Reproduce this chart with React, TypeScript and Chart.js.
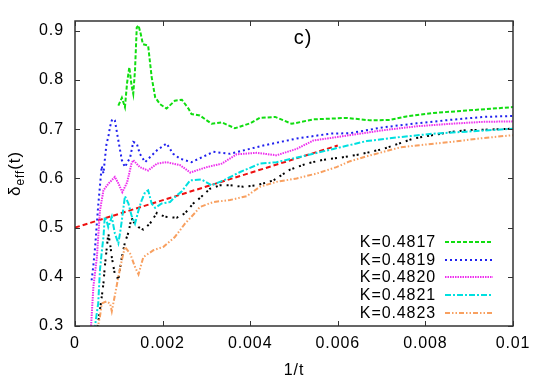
import { useEffect, useRef } from "react";
import { Chart, registerables } from "chart.js";

Chart.register(...registerables);

const xTicks = [0, 0.002, 0.004, 0.006, 0.008, 0.01];
const xTickLabels = ["0", "0.002", "0.004", "0.006", "0.008", "0.01"];
const yTicks = [0.3, 0.4, 0.5, 0.6, 0.7, 0.8, 0.9];
const yTickLabels = ["0.3", "0.4", "0.5", "0.6", "0.7", "0.8", "0.9"];

const legendNames = ["K=0.4817", "K=0.4819", "K=0.4820", "K=0.4821", "K=0.4823"];

const k4817X = [0.00099, 0.00107, 0.00114, 0.00119, 0.00124, 0.00129, 0.00133, 0.00137, 0.00141, 0.00145, 0.0015, 0.00155, 0.00167, 0.00175, 0.00183, 0.00194, 0.00209, 0.00228, 0.00244, 0.00259, 0.00266, 0.00285, 0.00312, 0.00335, 0.00365, 0.004, 0.00422, 0.00457, 0.00495, 0.00544, 0.0062, 0.00674, 0.00719, 0.00757, 0.00818, 0.00894, 0.01];
const k4817Y = [0.748, 0.764, 0.745, 0.795, 0.826, 0.79, 0.772, 0.82, 0.907, 0.911, 0.894, 0.873, 0.87, 0.806, 0.765, 0.751, 0.742, 0.758, 0.76, 0.742, 0.731, 0.728, 0.711, 0.714, 0.702, 0.712, 0.723, 0.725, 0.711, 0.72, 0.723, 0.718, 0.719, 0.726, 0.733, 0.738, 0.745];

const k4819X = [0.00038, 0.00042, 0.00046, 0.0005, 0.00053, 0.00057, 0.00061, 0.00065, 0.00068, 0.00072, 0.00076, 0.0008, 0.00084, 0.00087, 0.00091, 0.00099, 0.00107, 0.00114, 0.00126, 0.00133, 0.00141, 0.00148, 0.0016, 0.00171, 0.00187, 0.00209, 0.00224, 0.0024, 0.00266, 0.00316, 0.00354, 0.0043, 0.00506, 0.00582, 0.00628, 0.00704, 0.0078, 0.00856, 0.00932, 0.01];
const k4819Y = [0.393, 0.424, 0.461, 0.51, 0.545, 0.585, 0.625, 0.61, 0.637, 0.671, 0.684, 0.705, 0.718, 0.721, 0.718, 0.677, 0.637, 0.623, 0.643, 0.674, 0.671, 0.65, 0.633, 0.643, 0.657, 0.671, 0.65, 0.64, 0.633, 0.654, 0.65, 0.667, 0.681, 0.691, 0.692, 0.704, 0.712, 0.719, 0.725, 0.727];

const k4820X = [0.00036, 0.00042, 0.0005, 0.00053, 0.00057, 0.00065, 0.00076, 0.00091, 0.00099, 0.00108, 0.00119, 0.00129, 0.00133, 0.00148, 0.00167, 0.00187, 0.00209, 0.0024, 0.00263, 0.00301, 0.00335, 0.00369, 0.00415, 0.0046, 0.00506, 0.00544, 0.0062, 0.00704, 0.0078, 0.00856, 0.00932, 0.01];
const k4820Y = [0.29, 0.38, 0.44, 0.481, 0.535, 0.576, 0.589, 0.603, 0.59, 0.572, 0.592, 0.63, 0.637, 0.623, 0.616, 0.63, 0.633, 0.627, 0.612, 0.623, 0.63, 0.649, 0.652, 0.647, 0.66, 0.677, 0.687, 0.698, 0.706, 0.711, 0.715, 0.716];

const k4821X = [0.00044, 0.00053, 0.00057, 0.00061, 0.00065, 0.00068, 0.00072, 0.00076, 0.00084, 0.00091, 0.00099, 0.00103, 0.00107, 0.00114, 0.00122, 0.00129, 0.00137, 0.00145, 0.00152, 0.0016, 0.00167, 0.00175, 0.00183, 0.00198, 0.00217, 0.00228, 0.00244, 0.00263, 0.00289, 0.00312, 0.00339, 0.00377, 0.00422, 0.0046, 0.00529, 0.0059, 0.00666, 0.00742, 0.00818, 0.00894, 0.01];
const k4821Y = [0.29, 0.346, 0.414, 0.45, 0.481, 0.522, 0.515, 0.501, 0.522, 0.488, 0.468, 0.49, 0.515, 0.564, 0.549, 0.525, 0.508, 0.535, 0.555, 0.572, 0.576, 0.549, 0.54, 0.549, 0.552, 0.562, 0.574, 0.596, 0.598, 0.586, 0.596, 0.613, 0.63, 0.633, 0.647, 0.66, 0.676, 0.684, 0.691, 0.695, 0.701];

const k4823X = [0.0005, 0.00057, 0.00061, 0.00072, 0.0008, 0.00084, 0.00091, 0.00099, 0.00107, 0.00114, 0.00126, 0.00137, 0.00145, 0.00156, 0.00179, 0.00202, 0.00228, 0.00251, 0.00274, 0.00285, 0.00316, 0.00354, 0.00392, 0.00422, 0.0046, 0.00506, 0.00552, 0.00597, 0.00628, 0.00666, 0.00704, 0.00742, 0.0078, 0.00856, 0.00932, 0.01];
const k4823Y = [0.29, 0.319, 0.346, 0.35, 0.346, 0.33, 0.362, 0.4, 0.434, 0.461, 0.447, 0.42, 0.405, 0.44, 0.454, 0.461, 0.481, 0.508, 0.53, 0.542, 0.552, 0.556, 0.564, 0.583, 0.593, 0.6, 0.61, 0.623, 0.635, 0.645, 0.654, 0.663, 0.667, 0.674, 0.682, 0.688];

const extraX = [0.0005, 0.00057, 0.00061, 0.00065, 0.00068, 0.00072, 0.00076, 0.0008, 0.00084, 0.00091, 0.00099, 0.00107, 0.00114, 0.00122, 0.00129, 0.00133, 0.00145, 0.00156, 0.00171, 0.00187, 0.00205, 0.00232, 0.00251, 0.0027, 0.00285, 0.00308, 0.00331, 0.00354, 0.00384, 0.00415, 0.00453, 0.00491, 0.00529, 0.00567, 0.00605, 0.00651, 0.00704, 0.00727, 0.0075, 0.00772, 0.0081, 0.00856, 0.00894, 0.00932, 0.01];
const extraY = [0.29, 0.332, 0.359, 0.387, 0.42, 0.454, 0.488, 0.468, 0.44, 0.405, 0.395, 0.44, 0.47, 0.49, 0.52, 0.512, 0.501, 0.496, 0.508, 0.53, 0.522, 0.52, 0.529, 0.549, 0.56, 0.579, 0.586, 0.586, 0.583, 0.586, 0.596, 0.618, 0.63, 0.638, 0.642, 0.649, 0.66, 0.667, 0.674, 0.681, 0.687, 0.694, 0.698, 0.699, 0.701];

const fitX = [0, 0.006];
const fitY = [0.5, 0.667];

const FONT = "'Liberation Sans', Arial, sans-serif";
const SPACING = "0.9px";

const pts = (xs: number[], ys: number[]) => xs.map((x, i) => ({ x, y: ys[i] }));

const styles = [
  { color: "#10dd10", dash: [4, 2] },
  { color: "#2020ee", dash: [2, 3] },
  { color: "#ee30ee", dash: [1.5, 1] },
  { color: "#00e0e0", dash: [6, 2, 2, 2] },
  { color: "#f8a060", dash: [5, 2, 1.5, 2, 1.5, 2] },
];

const spacingPlugin = {
  id: "spacing",
  beforeUpdate(chart: any) {
    chart.ctx.letterSpacing = SPACING;
  },
  beforeDraw(chart: any) {
    chart.ctx.letterSpacing = SPACING;
  },
};

const decorPlugin = {
  id: "decor",
  afterDatasetsDraw(chart: any) {
    const { ctx, chartArea: a, scales } = chart;
    ctx.save();
    ctx.letterSpacing = SPACING;
    // frame
    ctx.strokeStyle = "#333";
    ctx.lineWidth = 1.5;
    ctx.setLineDash([]);
    ctx.strokeRect(a.left, a.top, a.right - a.left, a.bottom - a.top);
    // inward ticks
    ctx.lineWidth = 1;
    ctx.beginPath();
    const tl = 5;
    scales.y.ticks.forEach((t: any) => {
      const y = Math.round(scales.y.getPixelForValue(t.value)) + 0.5;
      ctx.moveTo(a.left, y);
      ctx.lineTo(a.left + tl, y);
      ctx.moveTo(a.right, y);
      ctx.lineTo(a.right - tl, y);
    });
    scales.x.ticks.forEach((t: any) => {
      const x = Math.round(scales.x.getPixelForValue(t.value)) + 0.5;
      ctx.moveTo(x, a.bottom);
      ctx.lineTo(x, a.bottom - tl);
      ctx.moveTo(x, a.top);
      ctx.lineTo(x, a.top + tl);
    });
    ctx.stroke();

    // title
    ctx.fillStyle = "#000";
    ctx.font = `20px ${FONT}`;
    ctx.textAlign = "center";
    ctx.textBaseline = "middle";
    ctx.fillText("c)", 303, 38);

    // x label
    ctx.font = `16px ${FONT}`;
    ctx.fillText("1/t", (a.left + a.right) / 2, 371);

    // y label rotated
    ctx.save();
    ctx.translate(20, (a.top + a.bottom) / 2);
    ctx.rotate(-Math.PI / 2);
    ctx.textBaseline = "alphabetic";
    ctx.textAlign = "left";
    const mainF = `17px ${FONT}`;
    const subF = `12px ${FONT}`;
    ctx.font = mainF;
    const w1 = ctx.measureText("\u03b4").width;
    const w3 = ctx.measureText("(t)").width;
    ctx.font = subF;
    const w2 = ctx.measureText("eff").width;
    const total = w1 + w2 + w3;
    let x0 = -total / 2;
    ctx.font = mainF;
    ctx.fillText("\u03b4", x0, 0);
    x0 += w1;
    ctx.font = subF;
    ctx.fillText("eff", x0, 4);
    x0 += w2;
    ctx.font = mainF;
    ctx.fillText("(t)", x0, 0);
    ctx.restore();

    // legend
    ctx.font = `16px ${FONT}`;
    ctx.textAlign = "right";
    ctx.textBaseline = "middle";
    const rowY0 = 242;
    const rowH = 17.7;
    legendNames.forEach((name, i) => {
      const y = Math.round(rowY0 + i * rowH);
      ctx.fillStyle = "#000";
      ctx.fillText(name, 436, y + 1);
      ctx.strokeStyle = styles[i].color;
      ctx.lineWidth = 2;
      ctx.setLineDash(styles[i].dash);
      ctx.beginPath();
      ctx.moveTo(445, y);
      ctx.lineTo(493, y);
      ctx.stroke();
    });
    ctx.restore();
  },
};

export default function App() {
  const ref = useRef<HTMLCanvasElement | null>(null);
  useEffect(() => {
    if (!ref.current) return;
    const series = [
      pts(k4817X, k4817Y),
      pts(k4819X, k4819Y),
      pts(k4820X, k4820Y),
      pts(k4821X, k4821Y),
      pts(k4823X, k4823Y),
    ];
    const datasets: any[] = series.map((d, i) => ({
      label: legendNames[i],
      data: d,
      borderColor: styles[i].color,
      borderDash: styles[i].dash,
      borderWidth: 2,
      pointRadius: 0,
      tension: 0,
      fill: false,
      clip: 0,
    }));
    datasets.push({
      label: "extra",
      data: pts(extraX, extraY),
      borderColor: "#000",
      borderDash: [2, 2, 2, 5],
      borderWidth: 2,
      pointRadius: 0,
      tension: 0,
      fill: false,
      clip: 0,
    });
    datasets.push({
      label: "fit",
      data: pts(fitX, fitY),
      borderColor: "#ee1010",
      borderDash: [5, 3],
      borderWidth: 2,
      pointRadius: 0,
      tension: 0,
      fill: false,
      clip: 0,
    });
    const tickFont = { family: FONT, size: 16 };
    const chart = new Chart(ref.current, {
      type: "line",
      data: { datasets },
      plugins: [spacingPlugin, decorPlugin],
      options: {
        responsive: false,
        animation: false,
        layout: { padding: { top: 21, right: 32, left: 0, bottom: 0 } },
        plugins: { legend: { display: false }, tooltip: { enabled: false } },
        scales: {
          x: {
            type: "linear",
            min: 0,
            max: 0.01,
            afterFit: (s: any) => {
              s.height = 56;
            },
            afterBuildTicks: (s: any) => {
              s.ticks = xTicks.map((v) => ({ value: v }));
            },
            ticks: {
              callback: (_v: any, i: number) => xTickLabels[i],
              font: tickFont,
              color: "#000",
              padding: 8,
              maxRotation: 0,
              autoSkip: false,
            },
            grid: { display: false, drawTicks: false },
            border: { display: false },
          },
          y: {
            type: "linear",
            min: 0.3,
            max: 0.92,
            afterFit: (s: any) => {
              s.width = 75;
            },
            afterBuildTicks: (s: any) => {
              s.ticks = yTicks.map((v) => ({ value: v }));
            },
            ticks: {
              callback: (_v: any, i: number) => yTickLabels[i],
              font: tickFont,
              color: "#000",
              padding: 11,
              autoSkip: false,
            },
            grid: { display: false, drawTicks: false },
            border: { display: false },
          },
        },
      },
    } as any);
    return () => chart.destroy();
  }, []);
  return (
    <div style={{ position: "fixed", left: 0, top: 0, width: 545, height: 382, background: "#fff" }}>
      <canvas ref={ref} width={545} height={382} style={{ width: 545, height: 382, display: "block" }} />
    </div>
  );
}
